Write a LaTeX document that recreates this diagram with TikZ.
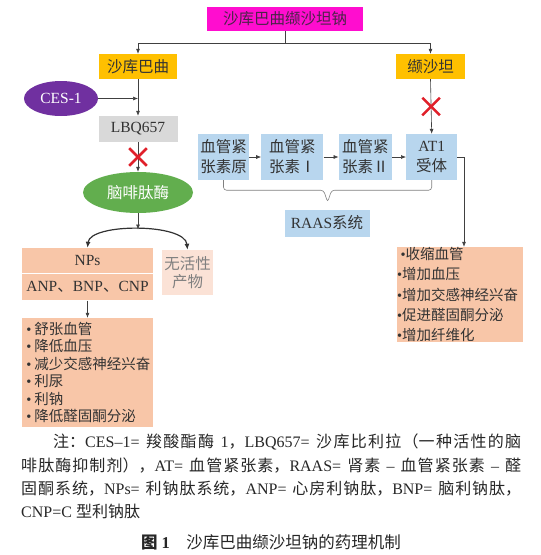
\documentclass[tikz,border=0pt]{standalone}
\usepackage{fontspec}
\setmainfont{Liberation Serif}
\newfontfamily\zh{Noto Sans CJK SC}
\usetikzlibrary{positioning, arrows.meta, shapes.geometric, shapes.misc, calc}
\XeTeXlinebreaklocale "zh"
\XeTeXlinebreakskip=0pt plus 1pt

\definecolor{sacvalpink}{HTML}{FF0DCF}
\definecolor{sacvalink}{HTML}{4A2448}
\definecolor{drugorange}{HTML}{FFC000}
\definecolor{cespurple}{HTML}{7030A0}
\definecolor{lbqgray}{HTML}{D9D9D9}
\definecolor{nepgreen}{HTML}{62AE4E}
\definecolor{raasblue}{HTML}{B8D6EE}
\definecolor{effpeach}{HTML}{F8C6A8}
\definecolor{inactpink}{HTML}{FBE2D6}
\definecolor{stopred}{HTML}{E0202A}
\definecolor{inkgray}{HTML}{333333}

\tikzset{
  box/.style={rectangle, inner sep=0pt, align=center, text=inkgray,
    font=\fontsize{15.5}{19.5}\selectfont},
  drug/.style={box, fill=drugorange, minimum height=25pt},
  raas/.style={box, fill=raasblue, minimum height=46pt, font=\fontsize{15.5}{20}\selectfont},
  blob/.style={ellipse, inner sep=0pt, text=white, font=\fontsize{15.5}{19}\selectfont},
  fxlist/.style={rectangle, fill=effpeach, align=left, text=inkgray, inner xsep=2pt, inner ysep=0pt},
  link/.style={-{Latex[length=5pt,width=4pt]}, line width=0.6pt, draw=black!75},
  stopx/.style={cross out, draw=stopred, line width=2.6pt, minimum size=15pt, inner sep=0pt},
  raasbrace/.style={draw=gray, line width=0.6pt, rounded corners=3pt},
}

\begin{document}
\begin{tikzpicture}[x=1pt, y=-1pt]
  \useasboundingbox (0,0) rectangle (541,555);
  % drug and its two parts
  \node[box, fill=sacvalpink, text=sacvalink, minimum width=156pt, minimum height=24pt] (sacval) at (285,19) {\zh 沙库巴曲缬沙坦钠};
  \node[drug, minimum width=78pt] (sac) at (138,66.5) {\zh 沙库巴曲};
  \node[drug, minimum width=69pt] (val) at (430.5,66.5) {\zh 缬沙坦};
  \draw[link] (sacval.south) -- ++(0,12) -| (sac.north);
  \draw[link] (sacval.south) -- ++(0,12) -| (val.north);

  % sacubitril side
  \node[blob, fill=cespurple, minimum width=74pt, minimum height=35pt] (ces) at (61,98.5) {CES-1};
  \node[box, fill=lbqgray, minimum width=79pt, minimum height=26pt] (lbq) at (138,129) {LBQ657};
  \node[blob, fill=nepgreen, minimum width=110pt, minimum height=41pt] (nep) at (138,192.5) {\zh 脑啡肽酶};
  \draw[link] (sac.south) -- (lbq.north);
  \draw[link] (ces.east) -- (ces.east -| sac.south);
  \draw[link] (lbq.south) -- (nep.north);
  \node[stopx] (stop1) at ($(lbq.south)!0.5!(nep.north)$) {};

  \node[box, fill=effpeach, minimum width=131pt, minimum height=24.5pt] (nps) at (87.5,260.25) {NPs};
  \node[box, fill=effpeach, anchor=north, minimum width=131pt, minimum height=26.5pt] (npkind) at ([yshift=-1pt]nps.south) {ANP{\zh 、}BNP{\zh 、}CNP};
  \node[box, fill=inactpink, text=gray, minimum width=51pt, minimum height=45pt, font={\zh\fontsize{15.5}{18}\selectfont}] (inact) at (187.5,272.5) {无活性\\产物};
  \coordinate (split) at (138,229.5);
  \draw[link] (nep.south) -- (split);
  \draw[{Latex[length=6pt,width=5pt]}-{Latex[length=6pt,width=5pt]}, line width=1.2pt, black!80]
    (nps.north) .. controls (90,223) and (185,223) .. (inact.north);

  \node[fxlist, text width=127pt, minimum height=109pt, font=\fontsize{14.5}{17.4}\selectfont] (npfx) at (87.5,372.5)
    {\,•\kern3pt{\zh 舒张血管}\\\,•\kern3pt{\zh 降低血压}\\\,•\kern3pt{\zh 减少交感神经兴奋}\\\,•\kern3pt{\zh 利尿}\\\,•\kern3pt{\zh 利钠}\\\,•\kern3pt{\zh 降低醛固酮分泌}};
  \draw[link] (npkind.south) -- (npfx.north);

  % RAAS chain
  \node[raas, minimum width=51pt] (agt) at (223.5,157) {{\zh 血管紧}\\{\zh 张素原}};
  \node[raas, minimum width=62pt, right=12pt of agt] (ang1) {{\zh 血管紧}\\{\zh 张素Ⅰ}};
  \node[raas, minimum width=53pt, right=15pt of ang1] (ang2) {{\zh 血管紧}\\{\zh 张素Ⅱ}};
  \node[raas, minimum width=51pt, right=14pt of ang2] (at1) {AT1\\{\zh 受体}};
  \draw[link] (agt) -- (ang1);
  \draw[link] (ang1) -- (ang2);
  \draw[link] (ang2) -- (at1);
  \draw[link] (val.south) -- (at1.north);
  \node[stopx] (stop2) at ($(val.south)!0.5!(at1.north)$) {};

  \coordinate (bracetip) at ($(agt.south)!0.5!(at1.south)+(0,22)$);
  \draw[raasbrace] (agt.south) -- ([yshift=-10pt]agt.south) -- ([xshift=-4pt,yshift=12pt]bracetip)
    -- (bracetip) -- ([xshift=4pt,yshift=12pt]bracetip) -- ([yshift=-10pt]at1.south) -- (at1.south);
  \node[box, fill=raasblue, minimum width=85pt, minimum height=27pt] (raas) at (327,223) {RAAS{\zh 系统}};

  \node[fxlist, inner xsep=0pt, text width=126pt, minimum height=95pt, font=\fontsize{14.5}{16.8}\selectfont] (atfx) at (460,294.5)
    {\kern3.5pt•{\zh 收缩血管}\\\kern3.5pt•{\zh 增加血压}\\\kern3.5pt•{\zh 增加交感神经兴奋}\\\kern3.5pt•{\zh 促进醛固酮分泌}\\\kern3.5pt•{\zh 增加纤维化}};
  \draw[link] (at1.east) -| ([xshift=4pt]atfx.north);

  % note and caption
  \node[anchor=north west, text width=500pt, align=justify, inner sep=0pt, text=black!85,
    font=\fontsize{16}{23.3}\selectfont] (note) at (21,434)
    {\hspace*{2em}{\zh 注：}CES–1= {\zh 羧酸酯酶} 1{\zh ，}LBQ657= {\zh 沙库比利拉（一种活性的脑}\linebreak
    {\zh 啡肽酶抑制剂），}AT= {\zh 血管紧张素，}RAAS= {\zh 肾素} – {\zh 血管紧张素} – {\zh 醛}\linebreak
    {\zh 固酮系统，}NPs= {\zh 利钠肽系统，}ANP= {\zh 心房利钠肽，}BNP= {\zh 脑利钠肽，}\linebreak
    CNP=C {\zh 型利钠肽}};
  \node[font=\fontsize{16.5}{20}\selectfont, text=black!85] (caption) at (271,542)
    {{\zh\bfseries 图} \textbf{1}\hspace{1em}{\zh 沙库巴曲缬沙坦钠的药理机制}};
\end{tikzpicture}
\end{document}
